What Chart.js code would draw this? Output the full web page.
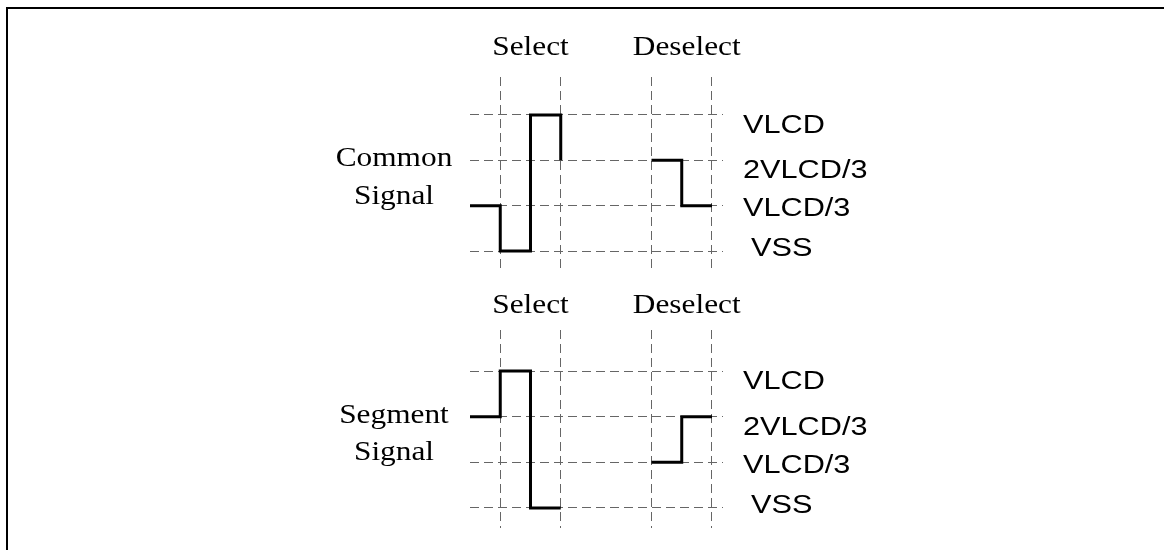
<!DOCTYPE html>
<html>
<head>
<meta charset="utf-8">
<script src="https://cdn.jsdelivr.net/npm/chart.js@4/dist/chart.umd.min.js"></script>
<style>
html, body { margin: 0; padding: 0; background: #fff; }
#wrap { position: relative; width: 1164px; height: 550px; overflow: hidden; background: #fff; }
#frame { position: absolute; left: 6px; top: 7px; width: 1300px; height: 700px;
         border-left: 2px solid #000; border-top: 2px solid #000; }
canvas { position: absolute; left: 0; }
#c1 { top: 0; }
#c2 { top: 290px; }
</style>
</head>
<body>
<div id="wrap">
  <div id="frame"></div>
  <canvas id="c1" width="1164" height="290"></canvas>
  <canvas id="c2" width="1164" height="260"></canvas>
</div>
<script>
// ---- data ----
const levelValues = [0, 1, 2, 3];
const levelLabels = ['VSS', 'VLCD/3', '2VLCD/3', 'VLCD'];
const phaseBoundaries = [1, 3, 6, 8];
const phaseLabels = ['Select', 'Deselect'];
const phaseCenters = [2, 7];
const selectTimes = [0, 1, 2, 3];
const deselectTimes = [6, 7, 8];
const commonSelect = [1, 0, 3, 2];
const commonDeselect = [2, 1, 1];
const segmentSelect = [2, 3, 0, 0];
const segmentDeselect = [1, 2, 2];
const commonName = ['Common', 'Signal'];
const segmentName = ['Segment', 'Signal'];
const nameLevels = [2, 1];

// ---- styles ----
const SERIF = '27px "Liberation Serif", "Times New Roman", serif';
const SANS = '26px "Liberation Sans", Arial, sans-serif';
const SERIF_SX = 1.16;
const SANS_SX = 1.18;
const GRID_COLOR = '#666666';

function drawStretched(ctx, text, x, y, font, sx, align) {
  ctx.save();
  ctx.font = font;
  ctx.textBaseline = 'alphabetic';
  ctx.textAlign = align;
  ctx.fillStyle = '#000';
  ctx.translate(x, y);
  ctx.scale(sx, 1);
  ctx.fillText(text, 0, 0);
  ctx.restore();
}

const waveText = {
  id: 'waveText',
  afterDraw(chart, args, o) {
    const { ctx, chartArea } = chart;
    const xs = chart.scales.x, ys = chart.scales.y;
    phaseLabels.forEach((t, i) => drawStretched(ctx, t,
      xs.getPixelForValue(phaseCenters[i]) + o.headerDx[i], chartArea.top - o.headerRise,
      SERIF, SERIF_SX, 'center'));
    o.name.forEach((t, i) => drawStretched(ctx, t,
      chartArea.left - 76, ys.getPixelForValue(nameLevels[i]) + o.nameDy[i],
      SERIF, SERIF_SX, 'center'));
    levelLabels.forEach((t, i) => drawStretched(ctx, t,
      chartArea.right + o.levelDx[i], ys.getPixelForValue(levelValues[i]) + o.levelDy[i],
      SANS, SANS_SX, 'left'));
  }
};

function gridAxis(min, max, values) {
  return {
    type: 'linear', min: min, max: max,
    afterBuildTicks: s => { s.ticks = values.map(v => ({ value: v })); },
    ticks: { display: false },
    grid: { color: GRID_COLOR, lineWidth: 1, drawTicks: false },
    border: { display: false, dash: [9, 5] }
  };
}

function makeChart(id, selVals, desVals, name, yMin, yMax, pad, headerRise) {
  const lineStyle = { borderColor: '#000', borderWidth: 3, stepped: 'before', fill: false,
                      pointRadius: 0, pointHoverRadius: 0, borderJoinStyle: 'miter', borderCapStyle: 'butt' };
  return new Chart(document.getElementById(id), {
    type: 'line',
    data: {
      datasets: [
        Object.assign({ data: selectTimes.map((t, i) => ({ x: t, y: selVals[i] })) }, lineStyle),
        Object.assign({ data: deselectTimes.map((t, i) => ({ x: t, y: desVals[i] })) }, lineStyle)
      ]
    },
    options: {
      responsive: false, animation: false, devicePixelRatio: 1, events: [],
      layout: { padding: pad },
      plugins: {
        legend: { display: false }, tooltip: { enabled: false },
        waveText: {
          name: name, headerRise: headerRise, headerDx: [0, 5],
          nameDy: [6, -2],
          levelDx: [28, 20, 20, 20],
          levelDy: [5, 10.5, 18, 18]
        }
      },
      scales: {
        x: gridAxis(0, 8.364, phaseBoundaries),
        y: gridAxis(yMin, yMax, levelValues)
      }
    },
    plugins: [waveText]
  });
}

makeChart('c1', commonSelect, commonDeselect, commonName, -0.419, 3.838,
  { left: 470, right: 441, top: 77, bottom: 20 }, 22);
makeChart('c2', segmentSelect, segmentDeselect, segmentName, -0.438, 3.898,
  { left: 470, right: 441, top: 40, bottom: 22 }, 17);
</script>
</body>
</html>
